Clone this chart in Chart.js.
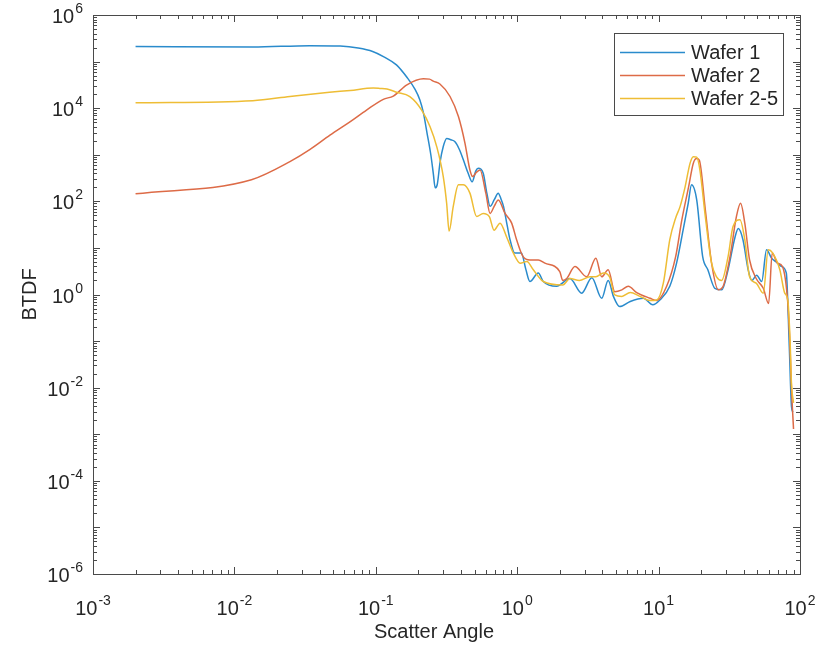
<!DOCTYPE html>
<html>
<head>
<meta charset="utf-8">
<script src="https://cdn.jsdelivr.net/npm/chart.js@4.4.1/dist/chart.umd.min.js"></script>
<style>
  body { margin: 0; background: #fff; }
  canvas { display: block; }
</style>
</head>
<body>
<canvas id="btdfChart" width="821" height="651"></canvas>
<script>
// values
const seriesNames = ['Wafer 1', 'Wafer 2', 'Wafer 2-5'];

const wafer1Angle = [0.002, 0.0135, 0.034, 0.056, 0.075, 0.095, 0.115, 0.14, 0.166, 0.19, 0.205, 0.217, 0.23, 0.245, 0.255, 0.263, 0.272, 0.285, 0.30, 0.317, 0.34, 0.363, 0.39, 0.416, 0.45, 0.48, 0.51, 0.53, 0.575, 0.61, 0.643, 0.69, 0.734, 0.77, 0.80, 0.85, 0.89, 0.96, 1.07, 1.15, 1.23, 1.41, 1.53, 1.9, 2.36, 2.86, 3.37, 3.96, 4.4, 4.8, 5.3, 6.3, 7.8, 9.1, 10.2, 12, 13.4, 14.9, 16.2, 17.1, 18.6, 20.5, 22.3, 25, 28, 31, 34.7, 36.6, 39.5, 43, 45.6, 49.4, 53.6, 58, 63, 68, 74, 80, 84, 87, 89];
const wafer1Btdf = [2.1e5, 2.05e5, 2.2e5, 2.15e5, 1.95e5, 1.65e5, 1.25e5, 8.5e4, 4.6e4, 2.5e4, 1.5e4, 8000, 3000, 1000, 400, 195, 230, 700, 1500, 2240, 2100, 1900, 1300, 780, 400, 263, 450, 510, 400, 150, 78, 110, 150, 110, 78, 30, 15, 7.8, 7.8, 3.5, 1.9, 2.9, 1.9, 1.5, 2.2, 1.07, 2.3, 0.83, 2.0, 0.9, 0.55, 0.71, 0.83, 0.6, 0.76, 1.5, 4.7, 24, 91, 226, 107, 6.5, 3.4, 1.36, 1.26, 3.4, 17, 26, 15, 3.4, 2.0, 2.6, 1.9, 9.1, 6, 5, 4, 2.9, 0.076, 0.004, 0.003];

const wafer2Angle = [0.002, 0.0132, 0.0247, 0.0343, 0.0474, 0.066, 0.086, 0.113, 0.133, 0.166, 0.217, 0.24, 0.255, 0.284, 0.335, 0.384, 0.427, 0.463, 0.484, 0.515, 0.546, 0.60, 0.643, 0.69, 0.735, 0.82, 0.914, 0.99, 1.1, 1.23, 1.41, 1.57, 2.0, 2.1, 2.24, 2.56, 3.1, 3.6, 3.96, 4.4, 4.9, 5.5, 6.1, 7.0, 8.7, 9.7, 11.4, 13.2, 14.6, 16.3, 17.6, 18.6, 19.4, 21.4, 23.7, 26.4, 28.6, 32, 35.5, 38, 40.7, 44, 49, 55, 60, 63.6, 69.3, 75, 82, 85, 87, 90];
const wafer2Btdf = [145, 290, 710, 1300, 2630, 5150, 9100, 15500, 18200, 31600, 42700, 42000, 38000, 33000, 17800, 6600, 1780, 470, 340, 420, 470, 150, 55, 80, 107, 55, 34, 15, 6.5, 5.5, 5.5, 4.7, 3.1, 2.0, 2.2, 4, 2.4, 6, 2.4, 3.4, 1.15, 1.26, 1.5, 1.1, 0.83, 0.74, 1.5, 6.5, 40, 205, 660, 830, 770, 66, 4.7, 1.26, 1.5, 6.5, 47, 91, 34, 5.5, 2.2, 1.36, 0.64, 7.8, 4.7, 4, 0.65, 0.076, 0.01, 0.0013];

const wafer25Angle = [0.002, 0.0135, 0.0247, 0.047, 0.066, 0.096, 0.107, 0.12, 0.14, 0.174, 0.211, 0.242, 0.27, 0.30, 0.317, 0.33, 0.353, 0.384, 0.416, 0.463, 0.517, 0.575, 0.635, 0.686, 0.756, 0.843, 0.94, 1.05, 1.17, 1.3, 1.53, 2.1, 2.36, 2.75, 3.27, 3.6, 4.07, 4.5, 4.9, 5.5, 6.3, 7.4, 8.7, 9.7, 10.8, 12, 13.2, 14.2, 15.4, 16.7, 17.6, 18.6, 19.6, 21.4, 23.7, 25.7, 27.9, 31, 33.6, 37.6, 40.7, 44, 49, 55, 59.6, 64, 72, 78, 82, 85, 87, 90];
const wafer25Btdf = [13000, 14500, 17800, 21900, 24000, 27000, 26500, 25700, 22000, 17700, 9100, 4000, 1480, 340, 91, 23, 78, 226, 226, 150, 47, 55, 47, 24, 34, 17, 7.7, 4.7, 5.1, 3.4, 1.9, 1.6, 2.2, 2.0, 2.4, 2.4, 2.9, 2.4, 0.98, 0.91, 1.1, 0.91, 0.74, 0.76, 1.75, 15, 44, 78, 205, 660, 910, 890, 470, 47, 4.7, 2.4, 2.0, 6.5, 29, 40, 15, 2.4, 1.75, 1.07, 9.1, 7.8, 3.4, 1.07, 0.76, 0.11, 0.0126, 0.0047];

const seriesColors = ['#2a8bcc', '#dd6b47', '#eebd35'];
const xTickExps = [-3, -2, -1, 0, 1, 2];
const yTickExps = [6, 4, 2, 0, -2, -4, -6];

function toPoints(xs, ys) {
    return xs.map((x, i) => ({ x: x, y: ys[i] }));
}

const seriesPoints = [
    toPoints(wafer1Angle, wafer1Btdf),
    toPoints(wafer2Angle, wafer2Btdf),
    toPoints(wafer25Angle, wafer25Btdf)
];

const fontName = '"Liberation Sans", Arial, sans-serif';

function drawPower(ctx, exp, x, y, align) {
    ctx.font = '20px ' + fontName;
    const baseW = ctx.measureText('10').width;
    ctx.font = '14px ' + fontName;
    const expW = ctx.measureText(String(exp)).width;
    const total = baseW + expW + 1;
    let start = x - total / 2;
    if (align === 'right') start = x - total;
    ctx.textAlign = 'left';
    ctx.textBaseline = 'alphabetic';
    ctx.font = '20px ' + fontName;
    ctx.fillText('10', start, y);
    ctx.font = '14px ' + fontName;
    ctx.fillText(String(exp), start + baseW + 1, y - 10);
}

const matlabAxes = {
    id: 'matlabAxes',
    afterDraw(chart) {
        const ctx = chart.ctx;
        const a = chart.chartArea;
        const xs = chart.scales.x;
        const ys = chart.scales.y;
        ctx.save();
        ctx.strokeStyle = '#4a4a4a';
        ctx.lineWidth = 1;
        ctx.strokeRect(Math.round(a.left) + 0.5, Math.round(a.top) + 0.5,
            Math.round(a.right - a.left), Math.round(a.bottom - a.top));

        // tick marks, inward on all four sides
        ctx.beginPath();
        for (let d = -3; d <= 2; d++) {
            for (let k = 1; k <= 9; k++) {
                const v = k * Math.pow(10, d);
                if (v > 100.0001) break;
                const px = Math.round(xs.getPixelForValue(v)) + 0.5;
                const len = k === 1 ? 7 : 4;
                ctx.moveTo(px, a.bottom); ctx.lineTo(px, a.bottom - len);
                ctx.moveTo(px, a.top); ctx.lineTo(px, a.top + len);
            }
        }
        for (let d = -6; d <= 6; d++) {
            for (let k = 1; k <= 9; k++) {
                const v = k * Math.pow(10, d);
                if (v > 1.0001e6) break;
                const py = Math.round(ys.getPixelForValue(v)) + 0.5;
                const len = k === 1 ? 7 : 4;
                ctx.moveTo(a.left, py); ctx.lineTo(a.left + len, py);
                ctx.moveTo(a.right, py); ctx.lineTo(a.right - len, py);
            }
        }
        ctx.stroke();

        ctx.fillStyle = '#262626';
        xTickExps.forEach(e => {
            drawPower(ctx, e, xs.getPixelForValue(Math.pow(10, e)), a.bottom + 41, 'center');
        });
        yTickExps.forEach(e => {
            drawPower(ctx, e, a.left - 10, ys.getPixelForValue(Math.pow(10, e)) + 8, 'right');
        });

        // axis titles
        ctx.font = '20px ' + fontName;
        ctx.textAlign = 'center';
        ctx.textBaseline = 'middle';
        ctx.fillText('Scatter Angle', 434, 632);
        ctx.save();
        ctx.translate(30, (a.top + a.bottom) / 2);
        ctx.rotate(-Math.PI / 2);
        ctx.fillText('BTDF', 0, 0);
        ctx.restore();

        // legend box
        ctx.fillStyle = '#fff';
        ctx.fillRect(614, 33, 169, 82);
        ctx.strokeStyle = '#4a4a4a';
        ctx.strokeRect(614.5, 33.5, 169, 82);
        ctx.font = '20px ' + fontName;
        ctx.textAlign = 'left';
        ctx.textBaseline = 'middle';
        seriesNames.forEach((name, i) => {
            const rowY = 52 + i * 23;
            ctx.strokeStyle = seriesColors[i];
            ctx.lineWidth = 1.5;
            ctx.beginPath();
            ctx.moveTo(620, rowY + 0.5);
            ctx.lineTo(685, rowY + 0.5);
            ctx.stroke();
            ctx.fillStyle = '#262626';
            ctx.fillText(name, 691, rowY + 1);
        });
        ctx.restore();
    }
};

const ctx = document.getElementById('btdfChart').getContext('2d');

new Chart(ctx, {
    type: 'line',
    data: {
        datasets: seriesNames.map((name, i) => ({
            label: name,
            data: seriesPoints[i],
            borderColor: seriesColors[i],
            backgroundColor: seriesColors[i],
            borderWidth: 1.5,
            pointRadius: 0,
            fill: false,
            cubicInterpolationMode: 'monotone',
            order: 2 - i
        }))
    },
    options: {
        responsive: false,
        animation: false,
        layout: {
            padding: { left: 93, top: 15, right: 21, bottom: 77 }
        },
        scales: {
            x: { type: 'logarithmic', min: 0.001, max: 100, display: false },
            y: { type: 'logarithmic', min: 1e-6, max: 1e6, display: false }
        },
        plugins: {
            legend: { display: false },
            tooltip: { enabled: false }
        }
    },
    plugins: [matlabAxes]
});
</script>
</body>
</html>
